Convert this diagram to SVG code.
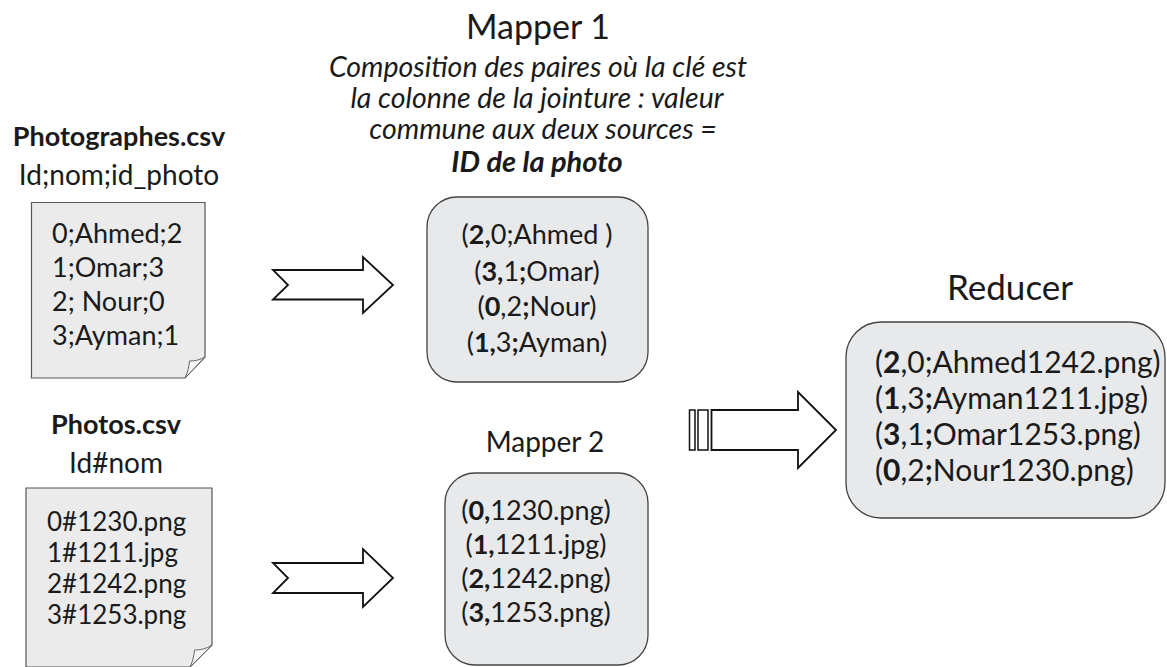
<svg xmlns="http://www.w3.org/2000/svg" width="1167" height="667" viewBox="0 0 1167 667">
  <style>
    text { font-family: Lato, "Open Sans", "Liberation Sans", sans-serif; fill: #1a1a1a; }
    .title { font-size: 34px; text-anchor: middle; }
    .title-lg { font-size: 35px; text-anchor: middle; }
    .sub { font-size: 28px; text-anchor: middle; }
    .note { font-size: 28.5px; font-style: italic; text-anchor: middle; }
    .key { font-size: 29px; font-style: italic; font-weight: bold; text-anchor: middle; }
    .head { font-size: 27px; font-weight: bold; text-anchor: middle; }
    .row { font-size: 27px; }
    .row-sm { font-size: 26px; }
    .row-lg { font-size: 30px; }
    .mid { text-anchor: middle; }
    .b { font-weight: bold; }
    .sheet { fill: #ebebeb; stroke: #555; stroke-width: 1.2; }
    .curl { fill: #f4f4f4; stroke: #666; stroke-width: 1; }
    .card { fill: #e8e9eb; stroke: #444; stroke-width: 1.3; }
    .arrow { fill: #ffffff; stroke: #111; stroke-width: 1.8; stroke-linejoin: miter; }
    .stripe { fill: #ffffff; stroke: #111; stroke-width: 1.5; }
  </style>

  <!-- Input file: photographers -->
  <g id="photographes">
    <text class="head" x="119" y="146">Photographes.csv</text>
    <text class="sub" x="119" y="185">Id;nom;id_photo</text>
    <path class="sheet" d="M31.5,202.5 H205 V357 L185,378 H31.5 Z"/>
    <path class="curl" d="M185,378 C188,372 189,366 189.5,361 C195,361 200,360 205,357 Z"/>
    <text class="row" x="52" y="243">0;Ahmed;2</text>
    <text class="row" x="52" y="277">1;Omar;3</text>
    <text class="row" x="52" y="311">2; Nour;0</text>
    <text class="row" x="52" y="345">3;Ayman;1</text>
  </g>

  <!-- Input file: photos -->
  <g id="photos">
    <text class="head" x="116" y="434">Photos.csv</text>
    <text class="sub" x="116" y="473">Id#nom</text>
    <path class="sheet" d="M26,488 H212 V645 L190,667 H26 Z"/>
    <path class="curl" d="M190,667 C193,661 194,655 194.5,650 C200,650 206,649 212,645 Z"/>
    <text class="row-sm" x="47" y="531">0#1230.png</text>
    <text class="row-sm" x="47" y="562">1#1211.jpg</text>
    <text class="row-sm" x="47" y="593">2#1242.png</text>
    <text class="row-sm" x="47" y="624">3#1253.png</text>
  </g>

  <!-- Mapper 1 with its description -->
  <g id="mapper1">
    <text class="title" x="538" y="39">Mapper 1</text>
    <text class="note" x="538" y="77">Composition des paires où la clé est</text>
    <text class="note" x="537" y="108">la colonne de la jointure : valeur</text>
    <text class="note" x="543" y="139">commune aux deux sources =</text>
    <text class="key" x="537" y="172">ID de la photo</text>
    <rect class="card" x="427" y="197" width="221" height="185" rx="30" ry="30"/>
    <text class="row mid" x="537" y="244">(<tspan class="b">2,</tspan>0;Ahmed )</text>
    <text class="row mid" x="537" y="281">(<tspan class="b">3,</tspan>1<tspan class="b">;</tspan>Omar)</text>
    <text class="row mid" x="537" y="316">(<tspan class="b">0</tspan>,2<tspan class="b">;</tspan>Nour)</text>
    <text class="row mid" x="537" y="352">(<tspan class="b">1,</tspan>3<tspan class="b">;</tspan>Ayman)</text>
  </g>

  <!-- Mapper 2 -->
  <g id="mapper2">
    <text class="sub" x="545" y="452">Mapper 2</text>
    <rect class="card" x="445" y="473" width="203" height="192" rx="30" ry="30"/>
    <text class="row mid" x="536" y="520">(<tspan class="b">0,</tspan>1230.png)</text>
    <text class="row mid" x="536" y="554">(<tspan class="b">1,</tspan>1211.jpg)</text>
    <text class="row mid" x="536" y="588">(<tspan class="b">2,</tspan>1242.png)</text>
    <text class="row mid" x="536" y="622">(<tspan class="b">3,</tspan>1253.png)</text>
  </g>

  <!-- Reducer -->
  <g id="reducer">
    <text class="title-lg" x="1010" y="300">Reducer</text>
    <rect class="card" x="846" y="322" width="319" height="196" rx="35" ry="35"/>
    <text class="row-lg" x="875" y="373">(<tspan class="b">2</tspan>,0;Ahmed1242.png)</text>
    <text class="row-lg" x="875" y="409">(<tspan class="b">1</tspan>,3<tspan class="b">;</tspan>Ayman1211.jpg)</text>
    <text class="row-lg" x="875" y="445">(<tspan class="b">3</tspan>,1<tspan class="b">;</tspan>Omar1253.png)</text>
    <text class="row-lg" x="875" y="481">(<tspan class="b">0</tspan>,2<tspan class="b">;</tspan>Nour1230.png)</text>
  </g>

  <!-- Connectors: block arrows between stages -->
  <g id="connectors">
    <path class="arrow" d="M273,270 H363 V257 L393,285 L363,313 V299.5 H273 L288,285 Z"/>
    <path class="arrow" d="M273,563 H363 V549 L393,578 L363,607 V593 H273 L288,578 Z"/>
    <rect class="stripe" x="689.5" y="410" width="5.5" height="40"/>
    <rect class="stripe" x="698" y="410" width="10" height="40"/>
    <path class="arrow" d="M711.5,410 H798 V392 L836,430 L798,468 V450 H711.5 Z"/>
  </g>
</svg>
